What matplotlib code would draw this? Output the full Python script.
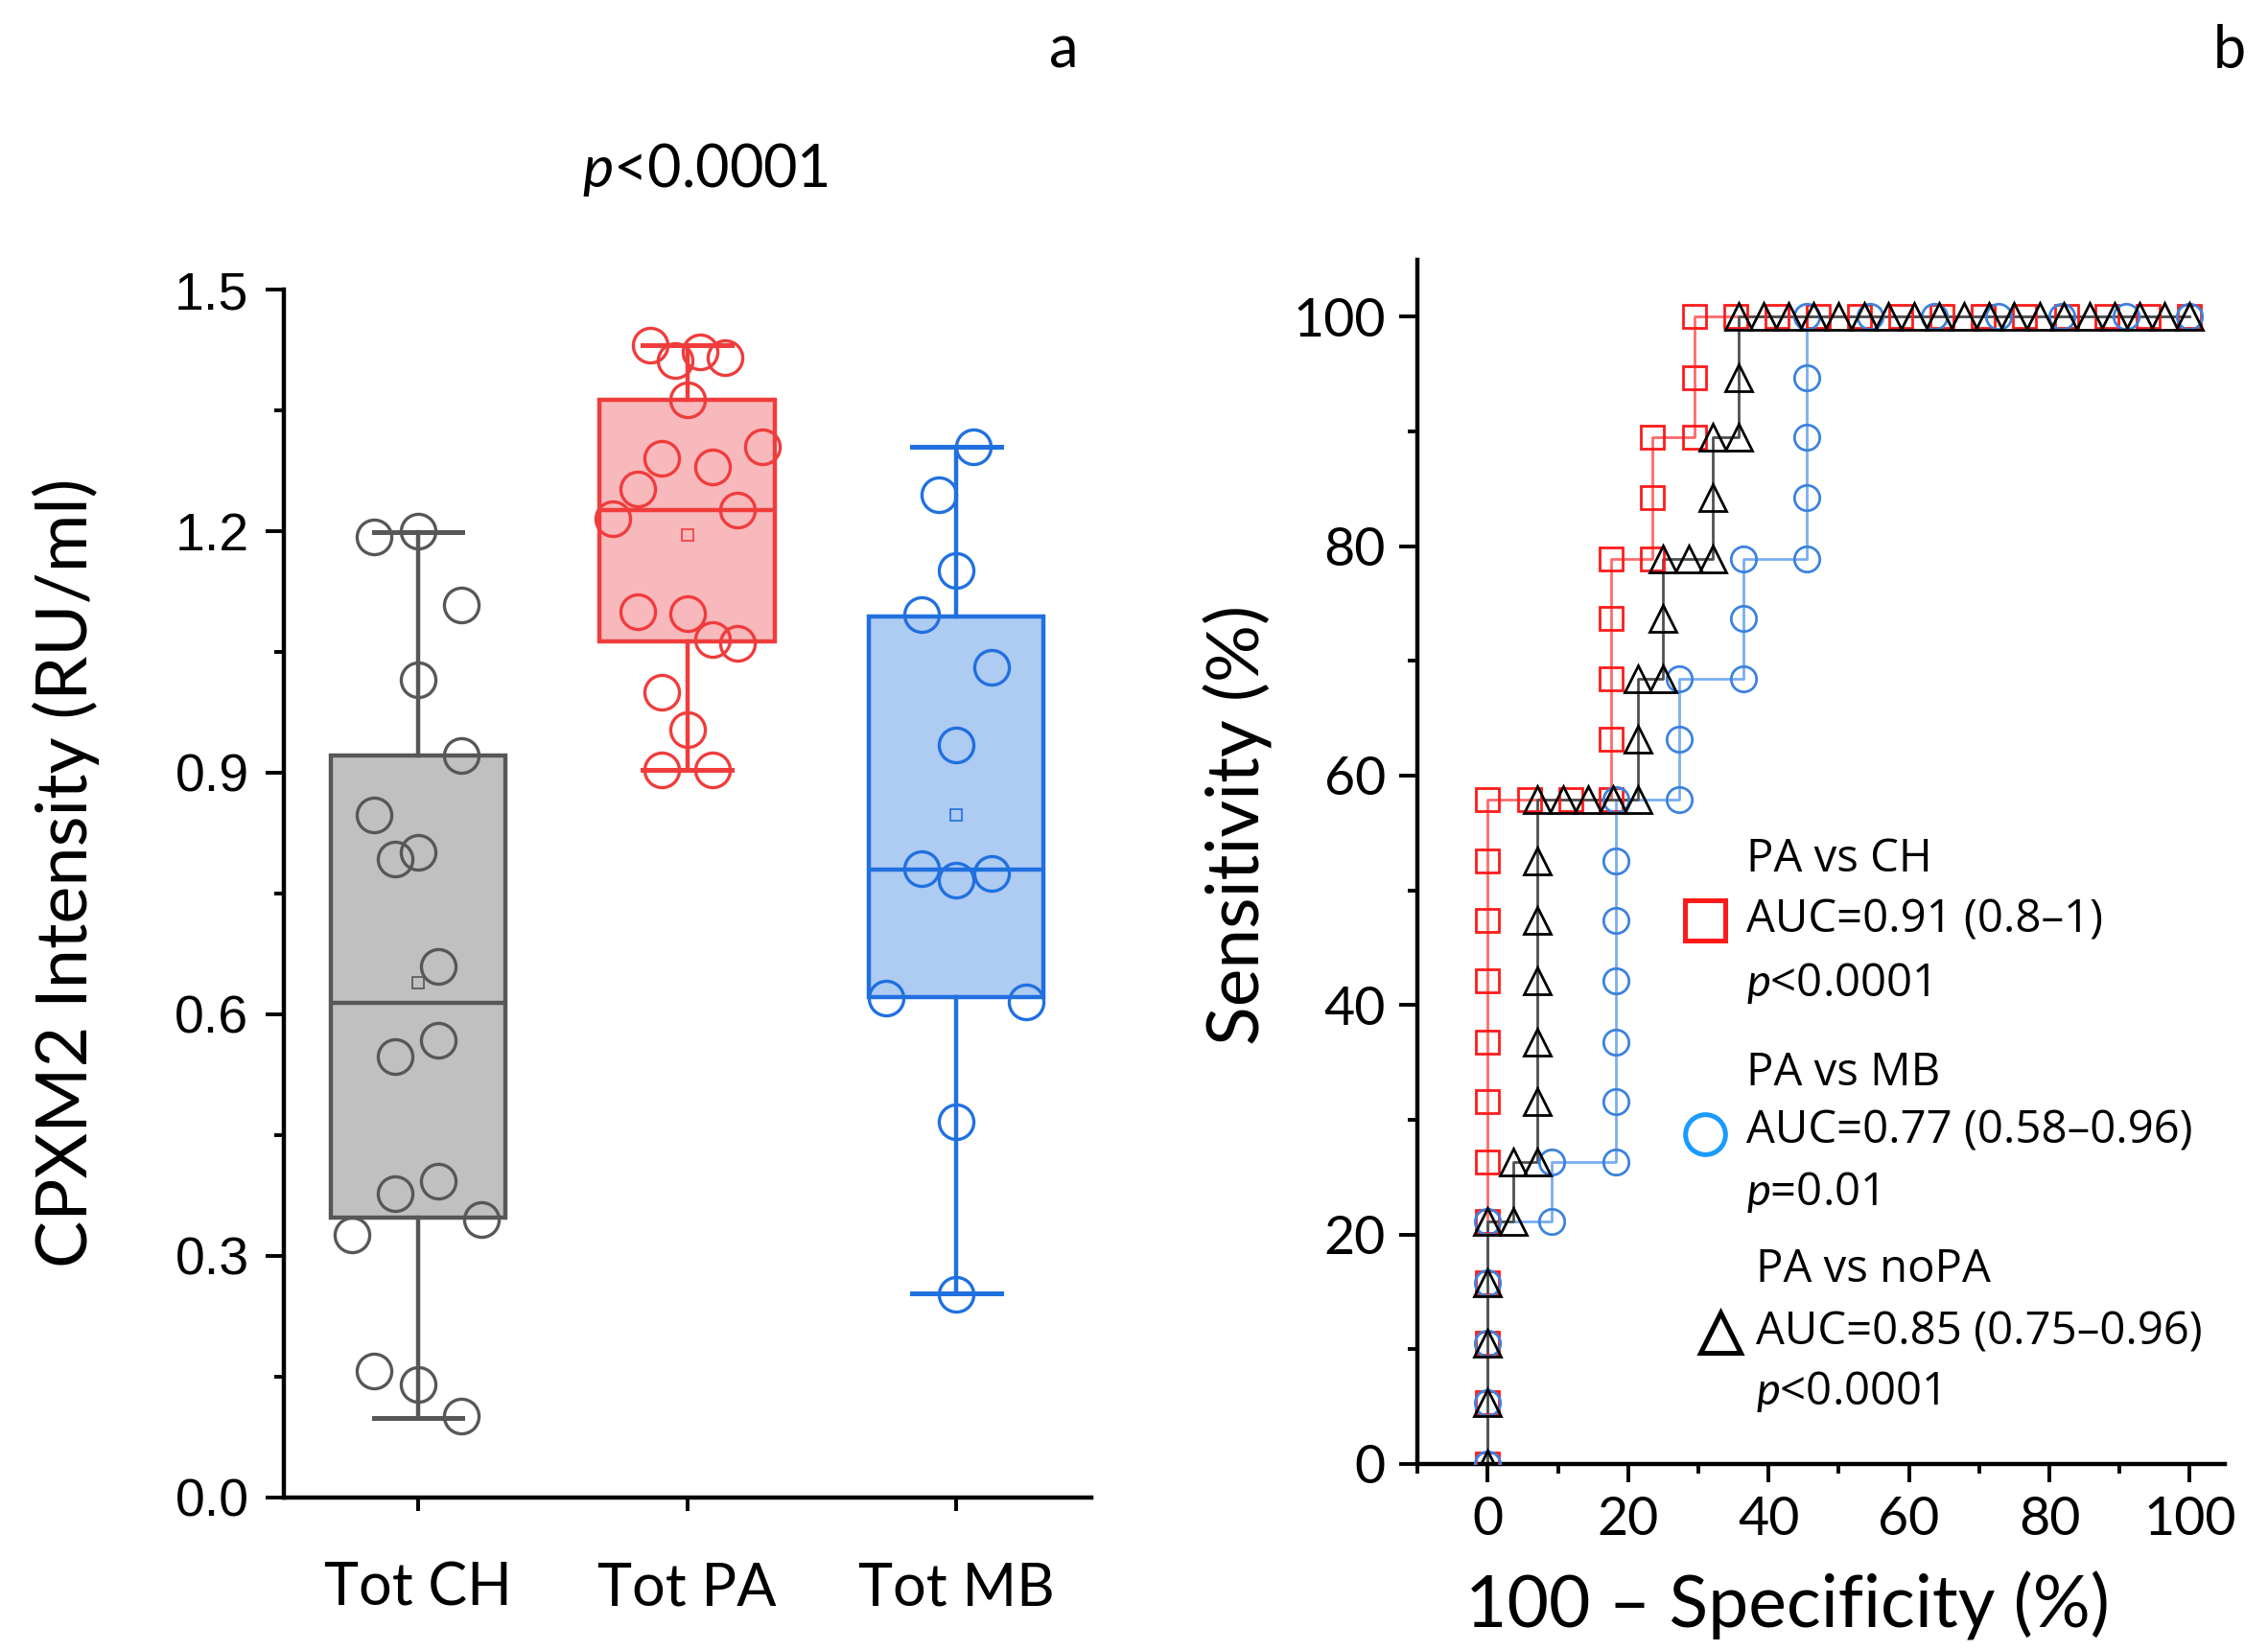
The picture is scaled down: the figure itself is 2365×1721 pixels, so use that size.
import numpy as np
import matplotlib
matplotlib.use('Agg')
import matplotlib.pyplot as plt
from matplotlib.ticker import MultipleLocator

plt.rcParams['font.family'] = ['Lato', 'DejaVu Sans']
plt.rcParams['mathtext.fontset'] = 'custom'
plt.rcParams['mathtext.it'] = 'Lato:italic'
plt.rcParams['mathtext.rm'] = 'Lato'

# ---- panel a: CPXM2 intensity per group ----
groups = ['Tot CH', 'Tot PA', 'Tot MB']

ch_vals = [1.193, 1.200, 1.108, 1.015, 0.921, 0.848, 0.801, 0.793, 0.660,
           0.568, 0.548, 0.393, 0.377, 0.345, 0.326, 0.157, 0.140, 0.101]
ch_jitter = [-0.165, 0, 0.159, 0, 0.159, -0.165, 0, -0.087, 0.076,
             0.076, -0.087, 0.076, -0.087, 0.237, -0.244, -0.165, 0, 0.159]

pa_vals = [1.431, 1.412, 1.423, 1.416, 1.363, 1.305, 1.290, 1.280, 1.252, 1.215,
           1.226, 1.100, 1.097, 1.065, 1.061, 1.000, 0.954, 0.903, 0.903]
pa_jitter = [-0.139, -0.046, 0.046, 0.139, 0, 0.278, -0.093, 0.093, -0.185, -0.278,
             0.185, -0.185, 0, 0.093, 0.185, -0.093, 0, -0.093, 0.093]

mb_vals = [1.305, 1.245, 1.151, 1.096, 1.031, 0.934, 0.781, 0.766, 0.775,
           0.620, 0.615, 0.466, 0.252]
mb_jitter = [0.065, -0.065, 0, -0.13, 0.13, 0, -0.13, 0, 0.13,
             -0.26, 0.26, 0, 0]

# box statistics as drawn in the figure
box_med = [0.614, 1.226, 0.780]
box_q1 = [0.347, 1.063, 0.621]
box_q3 = [0.921, 1.363, 1.094]
box_lo = [0.099, 0.903, 0.253]
box_hi = [1.199, 1.431, 1.305]
box_mean = [0.639, 1.195, 0.848]

# ---- panel b: ROC curves (100-specificity %, sensitivity %) ----
ch_fpr = [0, 0, 0, 0, 0, 0, 0, 0, 0, 0, 0, 0, 5.9, 11.8, 17.6, 17.6, 17.6, 17.6, 17.6,
          23.5, 23.5, 23.5, 29.4, 29.4, 29.4, 35.3, 41.2, 47.1, 52.9, 58.8, 64.7,
          70.6, 76.5, 82.4, 88.2, 94.1, 100]
ch_sens = [0, 5.3, 10.5, 15.8, 21.1, 26.3, 31.6, 36.8, 42.1, 47.4, 52.6, 57.9,
           57.9, 57.9, 57.9, 63.2, 68.4, 73.7, 78.9, 78.9, 84.2, 89.5, 89.5, 94.7, 100,
           100, 100, 100, 100, 100, 100, 100, 100, 100, 100, 100, 100]

mb_fpr = [0, 0, 0, 0, 0, 9.1, 9.1, 18.2, 18.2, 18.2, 18.2, 18.2, 18.2, 18.2,
          27.3, 27.3, 27.3, 36.4, 36.4, 36.4, 45.5, 45.5, 45.5, 45.5, 45.5,
          54.5, 63.6, 72.7, 81.8, 90.9, 100]
mb_sens = [0, 5.3, 10.5, 15.8, 21.1, 21.1, 26.3, 26.3, 31.6, 36.8, 42.1, 47.4, 52.6, 57.9,
           57.9, 63.2, 68.4, 68.4, 73.7, 78.9, 78.9, 84.2, 89.5, 94.7, 100,
           100, 100, 100, 100, 100, 100]

nopa_fpr = [0, 0, 0, 0, 0, 3.6, 3.6, 7.1, 7.1, 7.1, 7.1, 7.1, 7.1, 7.1,
            10.7, 14.3, 17.9, 21.4, 21.4, 21.4, 25.0, 25.0, 25.0, 28.6, 32.1, 32.1, 32.1,
            35.7, 35.7, 35.7, 39.3, 42.9, 46.4, 50.0, 53.6, 57.1, 60.7, 64.3, 67.9,
            71.4, 75.0, 78.6, 82.1, 85.7, 89.3, 92.9, 96.4, 100]
nopa_sens = [0, 5.3, 10.5, 15.8, 21.1, 21.1, 26.3, 26.3, 31.6, 36.8, 42.1, 47.4, 52.6, 57.9,
             57.9, 57.9, 57.9, 57.9, 63.2, 68.4, 68.4, 73.7, 78.9, 78.9, 78.9, 84.2, 89.5,
             89.5, 94.7, 100, 100, 100, 100, 100, 100, 100, 100, 100, 100,
             100, 100, 100, 100, 100, 100, 100, 100, 100]

roc_labels = ['PA vs CH', 'PA vs MB', 'PA vs noPA']
roc_auc = ['AUC=0.91 (0.8\u20131)', 'AUC=0.77 (0.58\u20130.96)', 'AUC=0.85 (0.75\u20130.96)']
roc_p = ['$p$<0.0001', '$p$=0.01', '$p$<0.0001']

fig = plt.figure(figsize=(11.825, 8.605), dpi=200)

# ================= panel a =================
ax1 = fig.add_axes([0.125, 0.0925, 0.356, 0.732])
edges = ['#575757', '#f03c3c', '#2070e0']
fills = ['#c0c0c0', '#f8b9bc', '#aecbf2']
vals_list = [ch_vals, pa_vals, mb_vals]
jit_list = [ch_jitter, pa_jitter, mb_jitter]

for i in range(3):
    st = dict(med=box_med[i], q1=box_q1[i], q3=box_q3[i], whislo=box_lo[i],
              whishi=box_hi[i], mean=box_mean[i], fliers=[])
    ax1.bxp([st], positions=[i + 1], widths=0.65, patch_artist=True,
            showmeans=True, showfliers=False, capwidths=[0.33],
            boxprops=dict(facecolor=fills[i], edgecolor=edges[i], linewidth=1.6),
            medianprops=dict(color=edges[i], linewidth=1.6),
            whiskerprops=dict(color=edges[i], linewidth=1.6),
            capprops=dict(color=edges[i], linewidth=1.8),
            meanprops=dict(marker='s', markerfacecolor='none', markeredgecolor=edges[i],
                           markersize=4, markeredgewidth=0.6))
    ax1.plot(np.array(jit_list[i]) + i + 1, vals_list[i], 'o', mfc='none', mec=edges[i],
             ms=13, mew=1.2, zorder=5, clip_on=False)

ax1.set_xlim(0.5, 3.5)
ax1.set_ylim(0, 1.5)
ax1.set_xticks([1, 2, 3])
ax1.set_xticklabels(groups, fontsize=22)
ax1.set_yticks([0, 0.3, 0.6, 0.9, 1.2, 1.5])
ax1.set_yticklabels(['0.0', '0.3', '0.6', '0.9', '1.2', '1.5'],
                    fontsize=20, family='Liberation Sans')
ax1.yaxis.set_minor_locator(MultipleLocator(0.15))
ax1.spines['top'].set_visible(False)
ax1.spines['right'].set_visible(False)
for s in ['left', 'bottom']:
    ax1.spines[s].set_linewidth(1.6)
ax1.tick_params(axis='y', which='major', direction='out', length=7, width=1.4, pad=6)
ax1.tick_params(axis='y', which='minor', direction='out', length=3.5, width=1.4)
ax1.tick_params(axis='x', which='major', direction='out', length=5, width=1.4, pad=19)

fig.text(0.029, 0.471, 'CPXM2 Intensity (RU/ml)', rotation=90, ha='center', va='center',
         fontsize=26.5)
fig.text(0.311, 0.897, '$p$<0.0001', ha='center', va='center', fontsize=22)
fig.text(0.469, 0.969, 'a', ha='center', va='center', fontsize=22)
fig.text(0.983, 0.969, 'b', ha='center', va='center', fontsize=22)

# ================= panel b =================
ax2 = fig.add_axes([0.625, 0.1128, 0.356, 0.730])

ax2.plot(ch_fpr, ch_sens, '-', color='#ff6a6a', lw=1.0, zorder=2)
ax2.plot(ch_fpr, ch_sens, ls='none', marker='s', ms=8.5, mfc='none', mec='#ff1a1a',
         mew=1.0, zorder=3)
ax2.plot(mb_fpr, mb_sens, '-', color='#7aaef0', lw=1.0, zorder=2)
ax2.plot(mb_fpr, mb_sens, ls='none', marker='o', ms=9.5, mfc='none', mec='#3b82e0',
         mew=1.0, zorder=3)
ax2.plot(nopa_fpr, nopa_sens, '-', color='#505050', lw=1.0, zorder=2)
ax2.plot(nopa_fpr, nopa_sens, ls='none', marker='^', ms=10, mfc='none', mec='black',
         mew=1.0, zorder=4)

ax2.set_xlim(-10, 105)
ax2.set_ylim(0, 105)
ax2.xaxis.set_major_locator(MultipleLocator(20))
ax2.xaxis.set_minor_locator(MultipleLocator(10))
ax2.yaxis.set_major_locator(MultipleLocator(20))
ax2.yaxis.set_minor_locator(MultipleLocator(10))
ax2.set_xticks([0, 20, 40, 60, 80, 100])
ax2.set_yticks([0, 20, 40, 60, 80, 100])
ax2.spines['top'].set_visible(False)
ax2.spines['right'].set_visible(False)
for s in ['left', 'bottom']:
    ax2.spines[s].set_linewidth(1.6)
ax2.tick_params(which='major', direction='out', length=7, width=1.4, labelsize=20, pad=5)
ax2.tick_params(which='minor', direction='out', length=3.5, width=1.4)
fig.text(0.788, 0.027, '100 \u2013 Specificity (%)', ha='center', va='center', fontsize=27)
fig.text(0.546, 0.50, 'Sensitivity (%)', rotation=90, ha='center', va='center', fontsize=27)

# legend built by hand
leg_marker = ['s', 'o', '^']
leg_color = ['#ff1a1a', '#1a9bff', 'black']
leg_mx = [31.0, 31.0, 33.1]
leg_my = [47.4, 28.7, 11.4]
leg_tx = [36.8, 36.8, 38.2]
leg_ty = [[52.7, 47.4, 41.8], [34.1, 29.0, 23.6], [16.9, 11.5, 6.2]]
for k in range(3):
    ax2.plot([leg_mx[k]], [leg_my[k]], marker=leg_marker[k], ms=15, mfc='none',
             mec=leg_color[k], mew=1.8, clip_on=False, zorder=6)
    ax2.text(leg_tx[k], leg_ty[k][0], roc_labels[k], ha='left', va='center',
             fontsize=17, family=['Open Sans', 'DejaVu Sans'])
    ax2.text(leg_tx[k], leg_ty[k][1], roc_auc[k], ha='left', va='center',
             fontsize=17, family=['Open Sans', 'DejaVu Sans'])
    ax2.text(leg_tx[k], leg_ty[k][2], roc_p[k], ha='left', va='center',
             fontsize=17, family=['Open Sans', 'DejaVu Sans'])

fig.savefig('out.png', dpi=200)
